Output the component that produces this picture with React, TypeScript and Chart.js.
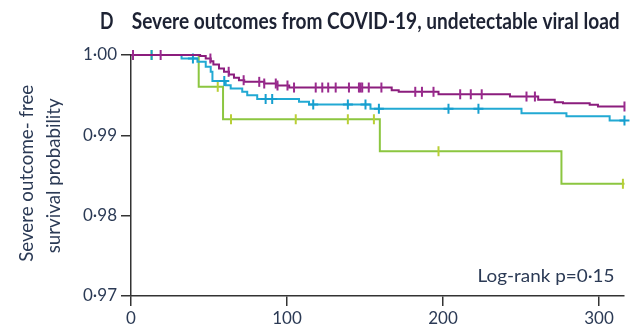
import React, { useEffect, useRef } from 'react';
import { Chart, registerables } from 'chart.js';

Chart.register(...registerables);

// ---- data ----
const xTicks = [0, 100, 200, 300];
const yTicks = [0.97, 0.98, 0.99, 1.0];

const purpleTimes = [0, 44.3, 47.9, 51.1, 52.8, 56.4, 59.6, 62.8, 66.0, 69.2, 72.6, 85.4, 93.7, 101.4, 167.1, 171.6, 197.1, 242.9, 261.0, 271.6, 276.9, 294.0, 299.3, 316.3];
const purpleSurv = [1, 0.99988, 0.99956, 0.99923, 0.99882, 0.99832, 0.99791, 0.99757, 0.99716, 0.99686, 0.99666, 0.99645, 0.9962, 0.99595, 0.99562, 0.99542, 0.99511, 0.99483, 0.99442, 0.99412, 0.994, 0.9938, 0.99359, 0.99359];
const purpleCensor = [1.3, 19.0, 50.9, 62.6, 72.2, 82.2, 85.4, 92.8, 93.9, 100.3, 104.5, 118.4, 122.6, 126.4, 131.2, 139.7, 146.1, 147.1, 148.2, 152.4, 160.5, 182.2, 186.5, 193.9, 211.0, 217.8, 224.8, 253.5, 258.9, 316.3];

const cyanTimes = [0, 32.4, 42.6, 47.9, 51.1, 52.2, 60.7, 63.9, 71.3, 74.5, 80.9, 107.7, 114.1, 153.5, 250.3, 279.1, 306.8, 316.3];
const cyanSurv = [1, 0.99956, 0.99915, 0.99853, 0.99791, 0.99676, 0.99624, 0.99583, 0.99542, 0.995, 0.99452, 0.99417, 0.99384, 0.9933, 0.99276, 0.99238, 0.99185, 0.99185];
const cyanCensor = [13.2, 39.7, 59.8, 86.3, 90.5, 116.8, 139.0, 150.3, 158.9, 203.5, 222.7, 316.3];

const greenTimes = [0, 43.4, 59.0, 159.5, 275.9, 316.3];
const greenSurv = [1, 0.99604, 0.992, 0.98802, 0.98397, 0.98397];
const greenCensor = [13.2, 55.6, 64.1, 105.6, 139.0, 155.7, 197.1, 315.3];

const titleLetter = 'D';
const titleText = 'Severe outcomes from COVID-19, undetectable viral load';
const yTitleLines = ['Severe outcome- free', 'survival probability'];
const pValueText = 'Log-rank p=0·15';

// ---- styles ----
const PURPLE = '#8b1d7d';
const PURPLE_TICK = '#9a2a8e';
const CYAN = '#22a9d3';
const CYAN_TICK = '#169fcf';
const GREEN = '#8cc640';
const GREEN_TICK = '#b9cf36';
const TEXT = '#2b3a55';
const AXIS = '#333333';
const FONT = 'Lato, "Open Sans", sans-serif';

const curve = (times: number[], surv: number[]) => times.map((t, i) => ({ x: t, y: surv[i] }));
const survAt = (times: number[], surv: number[], t: number) => {
  let v = surv[0];
  for (let i = 0; i < times.length; i++) if (times[i] <= t) v = surv[i];
  return v;
};
const censor = (times: number[], surv: number[], c: number[]) => c.map((t) => ({ x: t, y: survAt(times, surv, t) }));

const textPlugin = {
  id: 'customTexts',
  afterDraw(chart: any) {
    const ctx: CanvasRenderingContext2D = chart.ctx;
    const fit = (
      text: string, x: number, y: number, width: number, font: string, color: string,
      align: 'left' | 'center' | 'right', rotate = false,
    ) => {
      ctx.save();
      ctx.font = font;
      const w = ctx.measureText(text).width;
      const sx = width / w;
      ctx.translate(x, y);
      if (rotate) ctx.rotate(-Math.PI / 2);
      ctx.scale(sx, 1);
      ctx.fillStyle = color;
      ctx.textAlign = align;
      ctx.textBaseline = 'alphabetic';
      ctx.fillText(text, 0, 0);
      ctx.restore();
    };
    fit(titleLetter, 100, 28.5, 13.5, `bold 22px ${FONT}`, '#1d2233', 'left');
    fit(titleText, 131.7, 28.5, 488, `bold 22px ${FONT}`, '#1d2233', 'left');
    fit(yTitleLines[0], 33, 173.3, 177, `20px ${FONT}`, TEXT, 'center', true);
    fit(yTitleLines[1], 60, 175.8, 155, `20px ${FONT}`, TEXT, 'center', true);
    fit(pValueText, 614.5, 282, 137, `18px ${FONT}`, TEXT, 'right');
  },
};

export default function App() {
  const ref = useRef<HTMLCanvasElement | null>(null);
  useEffect(() => {
    if (!ref.current) return;
    const lineDs = (label: string, times: number[], surv: number[], color: string) => ({
      label,
      data: curve(times, surv),
      showLine: true,
      stepped: 'before' as const,
      borderColor: color,
      borderWidth: 2,
      pointRadius: 0,
      fill: false,
      clip: false as const,
    });
    const censorDs = (label: string, times: number[], surv: number[], c: number[], color: string, style: string) => ({
      label,
      data: censor(times, surv, c),
      showLine: false,
      pointStyle: style,
      pointRotation: style === 'line' ? 90 : 0,
      pointRadius: 5,
      pointBorderWidth: 2,
      pointBorderColor: color,
      pointBackgroundColor: color,
      borderColor: color,
      clip: false as const,
    });
    const chart = new Chart(ref.current, {
      type: 'scatter',
      data: {
        datasets: [
          censorDs('purple censored', purpleTimes, purpleSurv, purpleCensor, PURPLE_TICK, 'line'),
          lineDs('purple', purpleTimes, purpleSurv, PURPLE),
          censorDs('cyan censored', cyanTimes, cyanSurv, cyanCensor, CYAN_TICK, 'cross'),
          lineDs('cyan', cyanTimes, cyanSurv, CYAN),
          censorDs('green censored', greenTimes, greenSurv, greenCensor, GREEN_TICK, 'line'),
          lineDs('green', greenTimes, greenSurv, GREEN),
        ] as any,
      },
      options: {
        animation: false,
        responsive: false,
        devicePixelRatio: 1,
        layout: { padding: { top: 55, right: 5, left: 0, bottom: 0 } },
        plugins: { legend: { display: false }, tooltip: { enabled: false }, title: { display: false } },
        scales: {
          x: {
            type: 'linear',
            min: 0,
            max: 316,
            afterFit: (s: any) => { s.height = 31; },
            afterBuildTicks: (s: any) => { s.ticks = xTicks.map((v) => ({ value: v })); },
            ticks: {
              color: TEXT,
              font: { family: FONT, size: 17 },
              padding: 2,
              maxRotation: 0,
              callback: (v: any) => String(v),
            },
            grid: { display: true, drawOnChartArea: false, drawTicks: true, tickLength: 10, color: AXIS, lineWidth: 1.5 },
            border: { display: true, color: AXIS, width: 1.5 },
          },
          y: {
            type: 'linear',
            min: 0.97,
            max: 1.0,
            afterFit: (s: any) => { s.width = 131; },
            afterBuildTicks: (s: any) => { s.ticks = yTicks.map((v) => ({ value: v })); },
            ticks: {
              color: TEXT,
              font: { family: FONT, size: 17 },
              padding: 4,
              callback: (v: any) => Number(v).toFixed(2).replace('.', '·'),
            },
            grid: { display: true, drawOnChartArea: false, drawTicks: true, tickLength: 10, color: AXIS, lineWidth: 1.5 },
            border: { display: true, color: AXIS, width: 1.5 },
          },
        },
      } as any,
      plugins: [textPlugin],
    });
    return () => chart.destroy();
  }, []);
  return (
    <div style={{ position: 'absolute', left: 0, top: 0, width: 631, height: 327, background: '#fff' }}>
      <canvas ref={ref} width={631} height={327} />
    </div>
  );
}
